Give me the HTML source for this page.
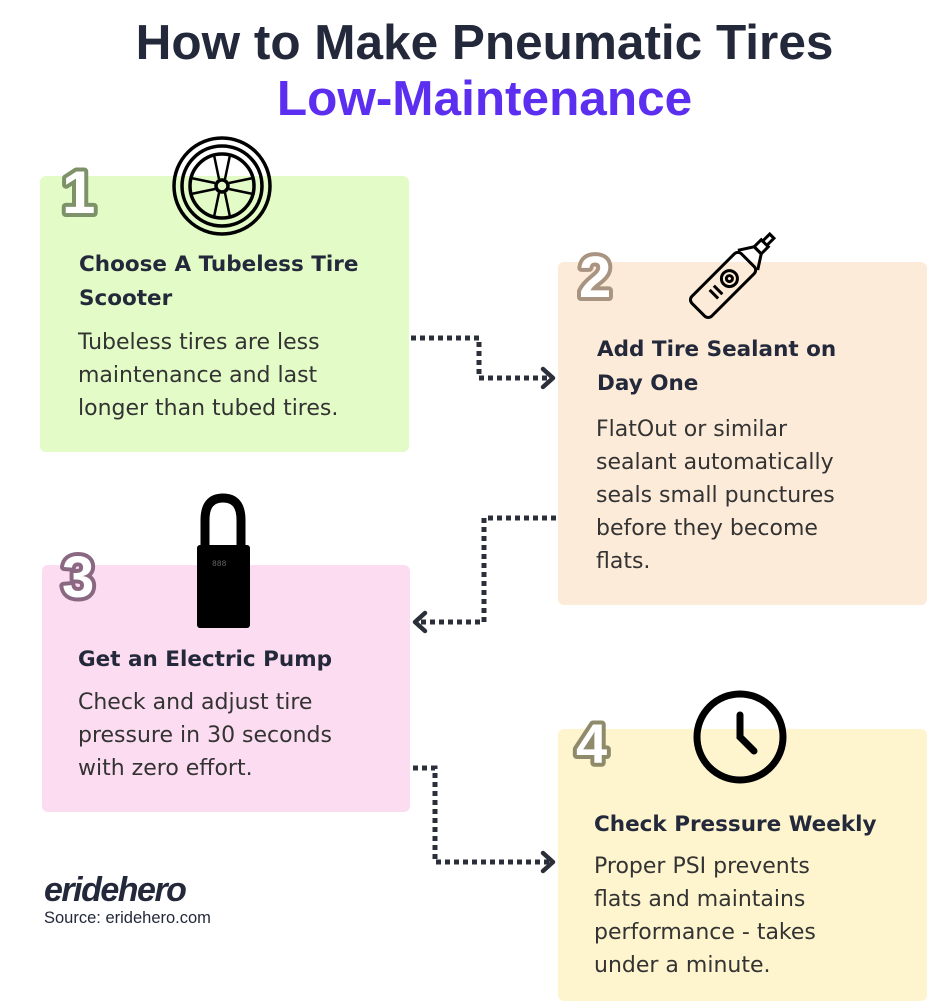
<!DOCTYPE html>
<html><head><meta charset="utf-8"><style>
body{margin:0;width:939px;height:1003px;background:#fff;position:relative;overflow:hidden;font-family:"DejaVu Sans","Liberation Sans",sans-serif;color:#2b2f3a}
.t{position:absolute;left:15px;width:939px;text-align:center;font-family:"Liberation Sans",sans-serif;font-weight:bold;font-size:49.5px}
.box{position:absolute;border-radius:6px}
.h{position:absolute;font-weight:bold;font-size:21.5px;line-height:34px;color:#23293a}
.p{position:absolute;font-size:22px;line-height:33px;color:#333}
svg{position:absolute;left:0;top:0}
</style></head><body>
<div class="t" style="top:14px;color:#23293a">How to Make Pneumatic Tires</div>
<div class="t" style="top:70px;color:#5b2ef0">Low-Maintenance</div>
<div class="box" style="left:40px;top:176px;width:369px;height:276px;background:#e3fbc6"></div>
<div class="box" style="left:558px;top:262px;width:369px;height:343px;background:#fdebd9"></div>
<div class="box" style="left:42px;top:565px;width:368px;height:247px;background:#fcdcf1"></div>
<div class="box" style="left:558px;top:729px;width:369px;height:272px;background:#fef5cf"></div>

<div class="h" style="left:79px;top:248px">Choose A Tubeless Tire<br>Scooter</div>
<div class="p" style="left:78px;top:326px">Tubeless tires are less<br>maintenance and last<br>longer than tubed tires.</div>
<div class="h" style="left:597px;top:333px">Add Tire Sealant on<br>Day One</div>
<div class="p" style="left:596px;top:413px">FlatOut or similar<br>sealant automatically<br>seals small punctures<br>before they become<br>flats.</div>
<div class="h" style="left:78px;top:643px">Get an Electric Pump</div>
<div class="p" style="left:78px;top:686px">Check and adjust tire<br>pressure in 30 seconds<br>with zero effort.</div>
<div class="h" style="left:594px;top:808px">Check Pressure Weekly</div>
<div class="p" style="left:594px;top:850px">Proper PSI prevents<br>flats and maintains<br>performance - takes<br>under a minute.</div>

<div style="position:absolute;left:44px;top:871px;font-family:'Liberation Sans',sans-serif;font-weight:bold;font-style:italic;font-size:34px;color:#23293a;letter-spacing:-1.5px">eridehero</div>
<div style="position:absolute;left:44px;top:909px;font-family:'Liberation Sans',sans-serif;font-size:16.5px;color:#23293a">Source: eridehero.com</div>

<svg width="939" height="1003">
<g font-family="Liberation Sans,sans-serif" font-weight="bold" fill="#fff" stroke-width="8" paint-order="stroke" stroke-linejoin="round">
<text x="62" y="213" font-size="60" stroke="#7d9268">1</text>
<text x="579" y="297" font-size="58" stroke="#a89480">2</text>
<text x="62" y="597" font-size="58" stroke="#8a6882">3</text>
<text x="576" y="763" font-size="56" stroke="#8f8a6a">4</text>
</g>
<g fill="none" stroke="#2b2f3a" stroke-width="5" stroke-dasharray="5 4">
<path d="M411 338 H479 V378 H550"/>
<path d="M556 518 H484 V622 H418"/>
<path d="M413 768 H435 V862 H550"/>
</g>
<g fill="none" stroke="#2b2f3a" stroke-width="4.5" stroke-linecap="round" stroke-linejoin="round">
<path d="M543 369 L553 378 L543 387"/>
<path d="M425 613 L415 622 L425 631"/>
<path d="M543 853 L553 862 L543 871"/>
</g>
<g fill="none" stroke="#000" stroke-width="3.5" transform="translate(222,186)">
<circle r="48"/><circle r="40"/><circle r="32"/><circle r="6"/>
<g stroke-width="2.5">
<path d="M-3 -7 L-8 -31 M3 -7 L8 -31 M-3 7 L-8 31 M3 7 L8 31 M-7 -3 L-31 -8 M-7 3 L-31 8 M7 -3 L31 -8 M7 3 L31 8"/>
</g></g>
<g fill="none" stroke="#000" stroke-width="3" transform="translate(728,280) rotate(45)">
<rect x="-14" y="-28" width="28" height="70" rx="5"/>
<path d="M-14 -28 L-5 -42 H5 L14 -28"/>
<rect x="-5" y="-52" width="10" height="10"/><path d="M-3 -52 V-62 H3 V-52"/>
<circle cx="0" cy="-2" r="8"/><circle cx="0" cy="-2" r="3"/>
<path d="M-6 14 H6 M-6 20 H6"/>
</g>
<path d="M205 550 V520 Q205 498 223 498 Q241 498 241 520 V550" fill="none" stroke="#000" stroke-width="9"/>
<rect x="197" y="545" width="53" height="83" rx="3" fill="#000"/>
<text x="212" y="566" font-size="8" fill="#666" font-family="Liberation Mono">888</text>
<g transform="translate(740,737)" fill="none" stroke="#000" stroke-width="7" stroke-linecap="round">
<circle r="43"/><path d="M0 -22 V0 L14 14"/>
</g>
</svg>
</body></html>
